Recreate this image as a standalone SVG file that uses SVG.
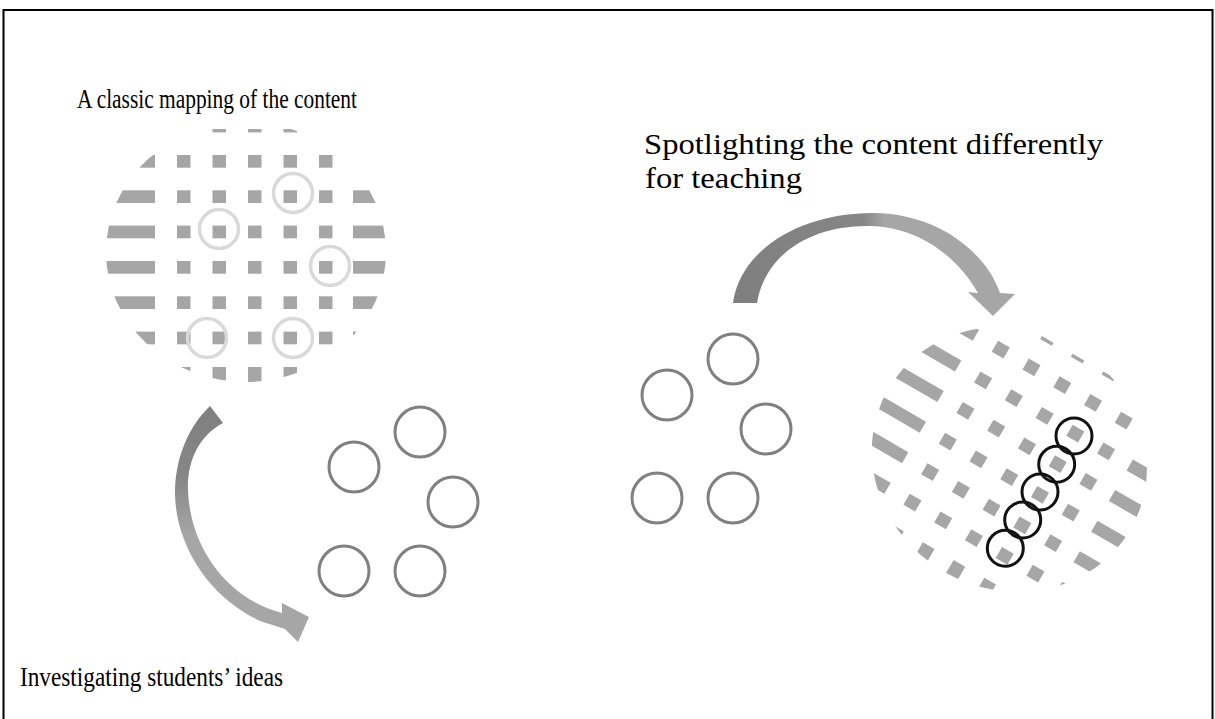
<svg xmlns="http://www.w3.org/2000/svg" xmlns:xlink="http://www.w3.org/1999/xlink" width="1215" height="719" viewBox="0 0 1215 719">
<style>
.lbl{font-family:"Liberation Serif","Times New Roman",serif;font-size:27px;fill:#000}
.big{font-size:29px}
.sq{fill:#a6a6a6}
.idea{fill:none;stroke:#808080;stroke-width:3}
.hl{fill:none;stroke:#d9d9d9;stroke-width:3.5}
.spot{fill:none;stroke:#111;stroke-width:3}
</style>
<defs>
<clipPath id="gclip" clipPathUnits="userSpaceOnUse"><ellipse cx="246" cy="252" rx="140" ry="130"/></clipPath>
<g id="grid" clip-path="url(#gclip)">
<g class="sq">
<rect x="212.5" y="129" width="13.5" height="3.4"/><rect x="248" y="129" width="13.5" height="3.4"/><rect x="283.5" y="129" width="13.5" height="3.4"/>
<rect x="177" y="367" width="13.5" height="40"/><rect x="212.5" y="367" width="13.5" height="40"/><rect x="248" y="367" width="13.5" height="40"/><rect x="283.5" y="367" width="13.5" height="40"/><rect x="319" y="367" width="13.5" height="40"/>
<rect x="90" y="155" width="65" height="12.7"/><rect x="177" y="155" width="13.5" height="12.7"/><rect x="212.5" y="155" width="13.5" height="12.7"/><rect x="248" y="155" width="13.5" height="12.7"/><rect x="283.5" y="155" width="13.5" height="12.7"/><rect x="319" y="155" width="13.5" height="12.7"/><rect x="353" y="155" width="50" height="12.7"/>
<rect x="90" y="190.3" width="65" height="12.7"/><rect x="177" y="190.3" width="13.5" height="12.7"/><rect x="212.5" y="190.3" width="13.5" height="12.7"/><rect x="248" y="190.3" width="13.5" height="12.7"/><rect x="283.5" y="190.3" width="13.5" height="12.7"/><rect x="319" y="190.3" width="13.5" height="12.7"/><rect x="353" y="190.3" width="50" height="12.7"/>
<rect x="90" y="225.6" width="65" height="12.7"/><rect x="177" y="225.6" width="13.5" height="12.7"/><rect x="212.5" y="225.6" width="13.5" height="12.7"/><rect x="248" y="225.6" width="13.5" height="12.7"/><rect x="283.5" y="225.6" width="13.5" height="12.7"/><rect x="319" y="225.6" width="13.5" height="12.7"/><rect x="353" y="225.6" width="50" height="12.7"/>
<rect x="90" y="261" width="65" height="12.7"/><rect x="177" y="261" width="13.5" height="12.7"/><rect x="212.5" y="261" width="13.5" height="12.7"/><rect x="248" y="261" width="13.5" height="12.7"/><rect x="283.5" y="261" width="13.5" height="12.7"/><rect x="319" y="261" width="13.5" height="12.7"/><rect x="353" y="261" width="50" height="12.7"/>
<rect x="90" y="296.3" width="65" height="12.7"/><rect x="177" y="296.3" width="13.5" height="12.7"/><rect x="212.5" y="296.3" width="13.5" height="12.7"/><rect x="248" y="296.3" width="13.5" height="12.7"/><rect x="283.5" y="296.3" width="13.5" height="12.7"/><rect x="319" y="296.3" width="13.5" height="12.7"/><rect x="353" y="296.3" width="50" height="12.7"/>
<rect x="90" y="331.6" width="65" height="12.7"/><rect x="177" y="331.6" width="13.5" height="12.7"/><rect x="212.5" y="331.6" width="13.5" height="12.7"/><rect x="248" y="331.6" width="13.5" height="12.7"/><rect x="283.5" y="331.6" width="13.5" height="12.7"/><rect x="319" y="331.6" width="13.5" height="12.7"/><rect x="353" y="331.6" width="50" height="12.7"/>
</g>
</g>
<linearGradient id="gradL" gradientUnits="userSpaceOnUse" x1="0" y1="406" x2="0" y2="642">
<stop offset="0" stop-color="#7f7f7f"/><stop offset="0.3" stop-color="#878787"/><stop offset="0.55" stop-color="#a6a6a6"/><stop offset="1" stop-color="#a6a6a6"/>
</linearGradient>
<linearGradient id="gradR" gradientUnits="userSpaceOnUse" x1="733" y1="0" x2="1015" y2="0">
<stop offset="0" stop-color="#7f7f7f"/><stop offset="0.46" stop-color="#868686"/><stop offset="0.54" stop-color="#a6a6a6"/><stop offset="1" stop-color="#a6a6a6"/>
</linearGradient>
</defs>

<rect id="frame" x="3.5" y="10" width="1209" height="720" fill="none" stroke="#000" stroke-width="2"/>

<g id="content-map">
<use xlink:href="#grid" href="#grid"/>
<circle class="hl" cx="293" cy="193" r="19.5"/>
<circle class="hl" cx="219" cy="229" r="19.5"/>
<circle class="hl" cx="330" cy="266" r="19.5"/>
<circle class="hl" cx="207" cy="338" r="19.5"/>
<circle class="hl" cx="293" cy="338" r="19.5"/>
</g>

<g id="student-ideas-left">
<circle class="idea" cx="420" cy="432" r="25"/>
<circle class="idea" cx="354" cy="467" r="25"/>
<circle class="idea" cx="453" cy="502" r="25"/>
<circle class="idea" cx="344" cy="571" r="25"/>
<circle class="idea" cx="420" cy="571" r="25"/>
</g>

<g id="student-ideas-right">
<circle class="idea" cx="733" cy="359" r="25"/>
<circle class="idea" cx="667" cy="395" r="25"/>
<circle class="idea" cx="766" cy="429" r="25"/>
<circle class="idea" cx="657" cy="498" r="25"/>
<circle class="idea" cx="733" cy="498" r="25"/>
</g>

<g id="spotlight-map">
<use xlink:href="#grid" href="#grid" transform="translate(922.3,118.1) rotate(30)"/>
<circle class="spot" cx="1074" cy="436" r="18"/>
<circle class="spot" cx="1056.7" cy="464.3" r="18"/>
<circle class="spot" cx="1040" cy="492" r="18"/>
<circle class="spot" cx="1022.7" cy="520" r="18"/>
<circle class="spot" cx="1005.3" cy="548.3" r="18"/>
</g>

<g id="connectors">
<path fill="url(#gradL)" d="M210,406 C190,425 176,455 175,490 C174,540 205,595 260,621 L285,629 L298,642 L309,617 L282,603 L282,613 C230,600 190,550 188,490 C187,460 200,435 223,423 Z"/>
<path fill="url(#gradR)" d="M733,303 C740,250 800,213 873,213 C935,213 985,250 1000,293 L1015,294 L993,316 L968,292 L978,293 C958,258 920,227 870,226 C810,225 765,255 757,303 Z"/>
</g>

<g id="labels">
<text class="lbl" x="77" y="108" textLength="280" lengthAdjust="spacingAndGlyphs">A classic mapping of the content</text>
<text class="lbl big" x="644" y="154" textLength="459" lengthAdjust="spacingAndGlyphs">Spotlighting the content differently</text>
<text class="lbl big" x="645" y="188" textLength="157" lengthAdjust="spacingAndGlyphs">for teaching</text>
<text class="lbl" x="20" y="686" textLength="263" lengthAdjust="spacingAndGlyphs">Investigating students’ ideas</text>
</g>
</svg>
